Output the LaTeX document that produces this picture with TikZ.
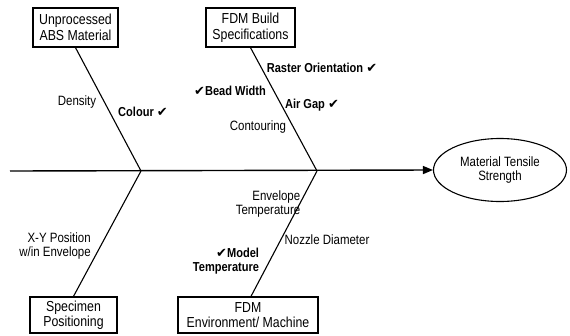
\documentclass[tikz,border=0pt]{standalone}
\usepackage{fontspec}
\setmainfont{Liberation Sans}[FakeStretch=0.85]
\newfontfamily\symfont{DejaVu Sans}
\usetikzlibrary{shapes.geometric,arrows.meta}
\newcommand{\ckmark}{{\symfont\char"2714}}
\begin{document}
\begin{tikzpicture}[x=1pt,y=-1pt,
  catbox/.style={draw,line width=1.3pt,inner sep=0pt,align=center,
    font=\fontsize{14.5}{15.5}\selectfont},
  bone/.style={line width=1.1pt},
  cause/.style={inner sep=0pt,font=\fontsize{13.5}{13.5}\selectfont},
  keycause/.style={cause,font=\fontsize{13}{13.5}\selectfont\bfseries},
  effect/.style={draw,ellipse,line width=1.1pt,inner sep=0pt,align=center,
    minimum width=133pt,minimum height=63pt,font=\fontsize{13.5}{14}\selectfont}]
\useasboundingbox (0,0) rectangle (570,335);

% category boxes
\node[catbox,minimum width=85pt,minimum height=39pt] (mat) at (75.5,27.5) {Unprocessed\\ABS Material};
\node[catbox,minimum width=89pt,minimum height=39pt] (spec) at (250.5,27.5) {FDM Build\\Specifications};
\node[catbox,minimum width=87pt,minimum height=36pt] (pos) at (73.5,315) {Specimen\\Positioning};
\node[catbox,minimum width=140pt,minimum height=36pt] (env) at (248,315) {FDM\\Environment/ Machine};

% effect
\node[effect] (eff) at (500,170) {Material Tensile\\Strength};

% spine
\coordinate (tail) at (10,171);
\coordinate (j1) at (141,171);
\coordinate (j2) at (317,171);
\draw[line width=1.4pt,-{Triangle[length=10pt,width=8pt]}] (tail) -- (eff.west);

% bones
\draw[bone] (mat.south) -- (j1);
\draw[bone] (spec.south) -- (j2);
\draw[bone] (pos.north) -- (j1);
\draw[bone] ([xshift=3pt]env.north) -- (j2);

% causes
\node[cause] (dens) at (77,102) {Density};
\node[keycause] (col) at (143,112) {Colour \ckmark};
\node[keycause] (bead) at (230,91) {\ckmark Bead Width};
\node[keycause] (rast) at (322,68) {Raster Orientation \ckmark};
\node[keycause] (gap) at (312,105) {Air Gap \ckmark};
\node[cause] (cont) at (258,127) {Contouring};
\node[cause,align=right] (envt) at (268,204) {Envelope\\Temperature};
\node[cause] (noz) at (327,240) {Nozzle Diameter};
\node[keycause,align=right] (modt) at (226,261) {\ckmark Model\\Temperature};
\node[cause,align=right] (xy) at (55,246) {X-Y Position\\w/in Envelope};
\end{tikzpicture}
\end{document}
